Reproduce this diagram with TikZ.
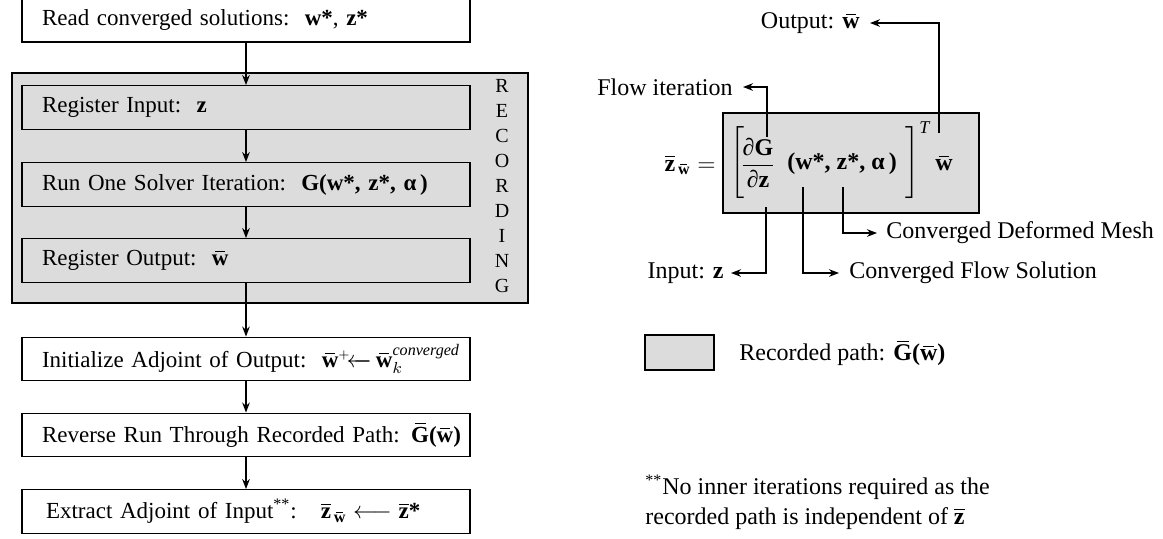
\documentclass[tikz,border=0pt]{standalone}
\usepackage{amsmath}
\usepackage{fontspec}
\setmainfont{Liberation Serif}
\usetikzlibrary{arrows.meta}
\definecolor{recgray}{RGB}{220,220,220}
\newcommand\wb{\ensuremath{\mkern2.5mu\overline{\mkern-2.5mu\textbf{w}\mkern-2.5mu}\mkern2.5mu}}
\newcommand\zb{\ensuremath{\overline{\textbf{z}}}}
\newcommand\Gb{\ensuremath{\mkern2.5mu\overline{\mkern-2.5mu\textbf{G}\mkern-2.5mu}\mkern2.5mu}}
\newcommand\shortlarrow{\ensuremath{{\leftarrow\mkern-13mu\relbar}}}
\tikzset{
  stepbox/.style={draw, line width=0.7pt, minimum width=224pt, minimum height=21.75pt,
    text width=204pt, align=left, inner xsep=10pt, inner ysep=0pt,
    font=\fontsize{11.5}{13.8}\selectfont},
  graybox/.style={draw, fill=recgray, line width=0.7pt, inner sep=0pt},
  lab/.style={inner sep=0pt},
  arr/.style={-{Stealth[length=5pt,width=3.8pt]}, line width=0.6pt},
}
\begin{document}
\begin{tikzpicture}[x=0.5pt,y=-0.5pt,font=\fontsize{12}{14.4}\selectfont]
\useasboundingbox (0,0) rectangle (1163,538);
% recording region
\node[graybox, minimum width=258pt, minimum height=115pt] (rec) at (270,188) {};
\node[inner sep=0pt, align=center, font=\fontsize{10}{12.5}\selectfont] (reclab) at (502,186)
  {R\\E\\C\\O\\R\\D\\I\\N\\G};
% left flow boxes
\node[stepbox, fill=white, minimum height=22pt] (b1) at (246,20) {\mbox{Read converged solutions:\ \ \textbf{w*}, \textbf{z*}}};
\node[stepbox] (b2) at (246,107.5) {\mbox{Register Input:\ \ \textbf{z}}};
\node[stepbox] (b3) at (246,184.5) {\mbox{Run One Solver Iteration:\ \ \textbf{G(w*, z*, α\,)}}};
\node[stepbox] (b4) at (246,260.5) {\mbox{Register Output:\ \ \wb}};
\node[stepbox, fill=white] (b5) at (246,359) {\mbox{Initialize Adjoint of Output:\ \ $\wb^{\scriptscriptstyle+}\!\shortlarrow\,\wb_{k}^{\textit{converged}}$}};
\node[stepbox, fill=white] (b6) at (246,435) {\mbox{Reverse Run Through Recorded Path: \Gb\textbf{(}\wb\textbf{)}}};
\node[stepbox, fill=white] (b7) at (246,511.5) {\mbox{\hspace{2pt}Extract Adjoint of Input\textsuperscript{**}:\hspace{12pt}$\zb_{\,\wb}\longleftarrow\zb$\textbf{*}}};
\draw[arr] (b1) -- (b2);
\draw[arr] (b2) -- (b3);
\draw[arr] (b3) -- (b4);
\draw[arr] (b4) -- (b5);
\draw[arr] (b5) -- (b6);
\draw[arr] (b6) -- (b7);
% formula
\node[graybox, minimum width=128pt, minimum height=50pt] (fb) at (851,163) {};
\node[anchor=east, inner sep=0pt] (zeq) at (716,165) {$\zb_{\,\wb}=$};
\node[inner sep=0pt] (lbr) at (738.5,163) {$\left[\rule[-13.25pt]{0pt}{31.5pt}\right.$};
\node[inner sep=0pt] (rbr) at (911.5,163) {$\left.\rule[-13.25pt]{0pt}{31.5pt}\right]$};
\node[inner sep=0pt] (fr) at (758,163) {$\dfrac{\text{∂\textbf{G}}}{\text{∂\textbf{z}}}$};
\node[anchor=base west, inner sep=0pt] (args) at (787,169) {\textbf{(w*, z*, α\,)}};
\node[inner sep=0pt, font=\fontsize{9}{10}\selectfont] (tsup) at (925,128) {\textit{T}};
\node[inner sep=0pt] (wbo) at (944,163) {\wb};
\coordinate (fS) at (767,137);
\coordinate (oS) at (939,133);
\coordinate (iS) at (766,207);
\coordinate (wS) at (803,187);
\coordinate (zS) at (843,187);
% labels
\node[lab, anchor=east] (out) at (860,23) {Output: \wb};
\node[lab, anchor=east] (flow) at (733,87) {Flow iteration};
\node[lab, anchor=east] (inp) at (724,273) {Input: \textbf{z}};
\node[lab, anchor=west] (fsol) at (849,273) {Converged Flow Solution};
\node[lab, anchor=west] (mesh) at (886,233) {Converged Deformed Mesh};
\draw[arr, shorten >=5pt] (oS) |- (out);
\draw[arr, shorten >=5pt] (fS) |- (flow);
\draw[arr, shorten >=3.5pt] (iS) |- (inp);
\draw[arr, shorten >=5pt] (wS) |- (fsol);
\draw[arr, shorten >=4.5pt] (zS) |- (mesh);
% legend
\node[graybox, minimum width=34.5pt, minimum height=17.5pt] (leg) at (679.5,352.5) {};
\node[lab, anchor=west] (legt) at (739,353) {Recorded path: \Gb\textbf{(}\wb\textbf{)}};
% footnote
\node[lab, anchor=west, align=left, font=\fontsize{12}{15}\selectfont] (fn) at (645,502)
  {\textsuperscript{**}No inner iterations required as the\\recorded path is independent of \zb};
\end{tikzpicture}
\end{document}
